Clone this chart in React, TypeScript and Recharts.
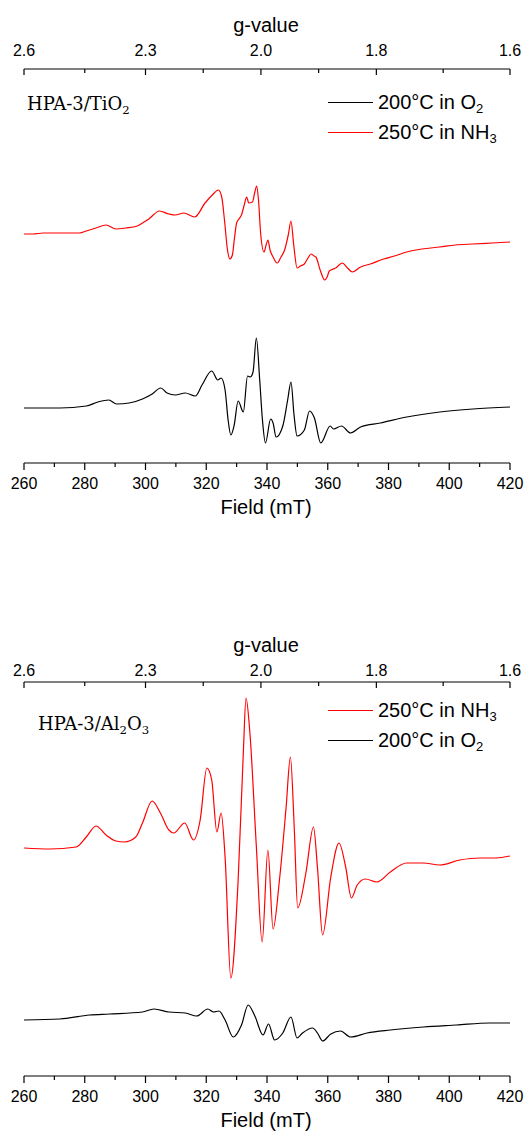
import { JSX } from "react";
import { LineChart, Line, XAxis, YAxis } from "recharts";

// bottom axis (Field, mT)
const fieldTicks = [260, 270, 280, 290, 300, 310, 320, 330, 340, 350, 360, 370, 380, 390, 400, 410, 420];
// top axis (g-value), positions on the field scale
const gTickFields = [260, 280, 300, 319, 338, 357, 376, 398, 420];
const gLabelFields = [260, 300, 338, 376, 420];
const gLabels = ["2.6", "2.3", "2.0", "1.8", "1.6"];

// HPA-3/TiO2, 200°C in O2
const tiO2FieldO2 = [260, 271.8, 280.5, 284.3, 287.9, 290.5, 294.6, 299, 302.2, 305, 307.1, 309.8, 313.1, 316.4, 318.6, 321.8, 323.8, 324.9, 326.2, 327.2, 328.1, 329.2, 330.5, 332.2, 333.6, 334.5, 335.4, 336.5, 337.6, 338.5, 339.5, 341.2, 342, 343, 345.2, 346.8, 347.9, 348.9, 349.9, 352.3, 354, 355.6, 357.7, 360.8, 361.9, 364.5, 367.5, 370.8, 377.3, 386, 396.9, 407.8, 420];
const tiO2SignalO2 = [5.5, 5.5, 5.7, 6.1, 6.3, 5.9, 6.0, 6.4, 6.9, 7.5, 7.0, 6.8, 7.0, 6.7, 7.8, 9.2, 8.3, 8.5, 7.3, 4.3, 2.8, 3.8, 6.2, 5.1, 8.7, 8.6, 9.1, 12.5, 8.3, 4.3, 2.0, 4.4, 4.0, 2.6, 3.7, 6.3, 8.1, 4.8, 2.7, 3.3, 5.2, 4.5, 2.0, 3.7, 3.4, 3.7, 3.0, 3.6, 4.0, 4.6, 5.1, 5.4, 5.6];

// HPA-3/TiO2, 250°C in NH3
const tiO2FieldNH3 = [260, 263, 266.3, 270, 274, 278.3, 280.5, 283.7, 287, 290.3, 293.5, 297.3, 299, 301.1, 304.6, 307.7, 309.8, 312.6, 316.2, 319.6, 322, 324, 325.1, 326, 327, 327.8, 328.6, 329.3, 330, 331, 331.6, 332.5, 333.3, 334, 335.2, 336, 336.6, 337.2, 337.9, 339, 339.7, 340.3, 341, 342, 343.4, 344.6, 345.8, 347, 347.9, 348.8, 349.9, 351, 352.3, 353.5, 354.5, 355.5, 356.1, 357.5, 359, 359.8, 360.5, 362.6, 364.8, 366.5, 368.1, 370.8, 374, 378.4, 382, 386, 391, 396.9, 402, 407.8, 414, 420];
const tiO2SignalNH3 = [22.9, 22.9, 23.0, 23.0, 23.0, 23.0, 23.2, 23.5, 23.8, 23.4, 23.5, 23.7, 24.0, 24.4, 25.2, 24.9, 24.8, 25.0, 24.6, 26.0, 26.8, 27.3, 26.6, 24.3, 21.3, 20.4, 20.8, 22.5, 24.0, 24.5, 24.8, 25.8, 26.6, 26.0, 26.1, 27.1, 27.7, 26.3, 23.0, 21.1, 21.8, 22.3, 21.3, 20.6, 20.0, 20.6, 21.3, 22.8, 24.2, 21.8, 19.5, 19.7, 19.9, 20.5, 20.9, 20.7, 20.6, 19.3, 18.3, 18.6, 19.2, 19.5, 20.0, 19.5, 19.1, 19.6, 19.9, 20.4, 20.7, 21.1, 21.4, 21.6, 21.8, 21.9, 22.0, 22.1];

// HPA-3/Al2O3, 250°C in NH3
const alFieldNH3 = [260, 268.5, 277.2, 280.5, 283.7, 287, 290.3, 293, 296.8, 299, 302.2, 304.9, 307.7, 309.3, 312.9, 315.8, 318, 320.2, 321.8, 323.5, 324.9, 326.2, 328.1, 330.5, 332.2, 333.1, 334.3, 336.5, 338.4, 340.3, 342, 344.1, 346.3, 347.7, 349, 350.1, 352.8, 355.3, 356.6, 358.3, 361, 363.7, 365.9, 367.8, 369.7, 372.4, 376.2, 380.6, 386, 391.5, 396.9, 403.5, 410, 415.4, 420];
const alSignalNH3 = [22.8, 22.7, 22.9, 23.9, 25.0, 24.1, 23.5, 23.4, 23.9, 25.3, 27.5, 26.3, 24.6, 24.3, 25.3, 23.6, 25.6, 30.8, 29.6, 24.4, 26.3, 21.9, 9.8, 19.6, 32.3, 37.8, 34.6, 22.9, 13.4, 22.6, 14.7, 19.6, 26.9, 31.9, 24.6, 16.8, 20.3, 24.9, 20.9, 14.1, 19.9, 23.3, 20.9, 17.8, 19.1, 19.7, 19.4, 20.4, 21.3, 21.3, 21.1, 21.6, 21.8, 21.8, 22.0];

// HPA-3/Al2O3, 200°C in O2
const alFieldO2 = [260, 271.8, 281.6, 288.1, 299, 302.8, 307.7, 313.1, 316.9, 320.5, 322.4, 324.2, 326.2, 328.9, 331.6, 333.8, 336, 338.7, 340.5, 342.5, 345.2, 347.9, 349.9, 351.7, 355, 356.6, 358.3, 361, 364.2, 367.5, 372.9, 380.6, 391.5, 402.4, 413.3, 420];
const alSignalO2 = [5.6, 5.7, 6.1, 6.2, 6.4, 6.7, 6.4, 6.3, 6.0, 6.7, 6.4, 6.5, 5.6, 3.9, 5.1, 7.1, 6.0, 4.1, 5.2, 3.6, 4.3, 5.9, 3.8, 4.3, 4.8, 4.3, 3.5, 4.2, 4.5, 3.9, 4.3, 4.6, 4.9, 5.1, 5.3, 5.3];

const SANS = "'Liberation Sans', Arial, sans-serif";
const SERIF = "'DejaVu Serif', 'Liberation Serif', serif";

const toData = (fields: number[], signal: number[]) =>
  fields.map((field, i) => ({ field, signal: signal[i] }));

const BottomTick = (props: any) => {
  const { x, y, payload } = props;
  const major = payload.value % 20 === 0;
  return (
    <g>
      <line x1={x} x2={x} y1={y} y2={y + (major ? 7 : 4)} stroke="#000" strokeWidth={1.2} />
      {major && (
        <text x={x} y={y + 20} textAnchor="middle" dominantBaseline="central" fontSize={16} fontFamily={SANS} fill="#000">
          {payload.value}
        </text>
      )}
    </g>
  );
};

const makeTopTick = (labelDy: number) => (props: any) => {
  const { x, y, payload } = props;
  const i = gLabelFields.indexOf(payload.value);
  const major = i >= 0;
  return (
    <g>
      <line x1={x} x2={x} y1={y} y2={y + (major ? 6 : 4)} stroke="#000" strokeWidth={1.2} />
      {major && (
        <text x={x} y={y - labelDy} textAnchor="middle" dominantBaseline="central" fontSize={16} fontFamily={SANS} fill="#000">
          {gLabels[i]}
        </text>
      )}
    </g>
  );
};

type Series = { name: string; sub: string; color: string; data: { field: number; signal: number }[] };

const Sub = ({ children }: { children: string }) => (
  <span style={{ fontSize: "0.65em", position: "relative", top: "0.35em" }}>{children}</span>
);

const Panel = ({
  top,
  sample,
  series,
  labelDy,
  titleDy,
  legendDy,
  sampleDy,
  sampleLeft,
}: {
  top: number;
  sample: JSX.Element;
  series: Series[];
  labelDy: number;
  titleDy: number;
  legendDy: number;
  sampleDy: number;
  sampleLeft: number;
}): JSX.Element => {
  const axisTop = 69;
  const axisBottom = 463;
  return (
    <div style={{ position: "absolute", left: 0, top, width: 530, height: 523 }}>
      <LineChart width={530} height={523} margin={{ top: 0, right: 20, bottom: 0, left: 24 }}>
        <XAxis
          xAxisId="top"
          orientation="top"
          type="number"
          dataKey="field"
          domain={[260, 420]}
          ticks={gTickFields}
          interval={0}
          height={axisTop}
          tickSize={0}
          tickMargin={0}
          tickLine={false}
          axisLine={{ stroke: "#000", strokeWidth: 1.2 }}
          tick={makeTopTick(labelDy)}
          allowDataOverflow
        />
        <XAxis
          xAxisId="bottom"
          type="number"
          dataKey="field"
          domain={[260, 420]}
          ticks={fieldTicks}
          interval={0}
          height={523 - axisBottom}
          tickSize={0}
          tickMargin={0}
          tickLine={false}
          axisLine={{ stroke: "#000", strokeWidth: 1.2 }}
          tick={BottomTick}
          allowDataOverflow
        />
        <YAxis hide domain={[0, 39.4]} />
        {series.map((s, i) => (
          <Line
            key={s.name + s.sub}
            xAxisId={i === 0 ? "bottom" : "top"}
            data={s.data}
            dataKey="signal"
            type="monotone"
            stroke={s.color}
            strokeWidth={1.2}
            dot={false}
            isAnimationActive={false}
          />
        ))}
      </LineChart>
      <div
        style={{
          position: "absolute",
          left: 266,
          top: axisTop - titleDy,
          transform: "translate(-50%, -50%)",
          fontFamily: SANS,
          fontSize: 20,
          whiteSpace: "nowrap",
        }}
      >
        g-value
      </div>
      <div
        style={{
          position: "absolute",
          left: 266,
          top: axisBottom + 44,
          transform: "translate(-50%, -50%)",
          fontFamily: SANS,
          fontSize: 20,
          whiteSpace: "nowrap",
        }}
      >
        Field (mT)
      </div>
      <div
        style={{
          position: "absolute",
          left: sampleLeft,
          top: axisTop + sampleDy,
          transform: "translateY(-50%)",
          fontFamily: SERIF,
          fontSize: 18,
          whiteSpace: "nowrap",
        }}
      >
        {sample}
      </div>
      {series.map((s, i) => (
        <div
          key={"lg" + i}
          style={{
            position: "absolute",
            left: 328,
            top: axisTop + legendDy + i * 30 - 12,
            height: 24,
            display: "flex",
            alignItems: "center",
            fontFamily: SANS,
            fontSize: 20,
            whiteSpace: "nowrap",
          }}
        >
          <span style={{ display: "inline-block", width: 45, height: 0, borderTop: `1.2px solid ${s.color}`, marginRight: 5 }} />
          <span>
            {s.name}
            <Sub>{s.sub}</Sub>
          </span>
        </div>
      ))}
    </div>
  );
};

export default function App(): JSX.Element {
  const tiSeries: Series[] = [
    { name: "200°C in O", sub: "2", color: "#000000", data: toData(tiO2FieldO2, tiO2SignalO2) },
    { name: "250°C in NH", sub: "3", color: "#ff0000", data: toData(tiO2FieldNH3, tiO2SignalNH3) },
  ];
  const alSeries: Series[] = [
    { name: "250°C in NH", sub: "3", color: "#ff0000", data: toData(alFieldNH3, alSignalNH3) },
    { name: "200°C in O", sub: "2", color: "#000000", data: toData(alFieldO2, alSignalO2) },
  ];
  return (
    <div style={{ position: "absolute", left: 0, top: 0, width: 530, height: 1136, background: "#fff" }}>
      <Panel
        top={0}
        sample={
          <span>
            HPA-3/TiO<Sub>2</Sub>
          </span>
        }
        sampleLeft={27}
        series={tiSeries}
        labelDy={19}
        titleDy={44}
        legendDy={33}
        sampleDy={34}
      />
      <Panel
        top={613}
        sample={
          <span>
            HPA-3/Al<Sub>2</Sub>O<Sub>3</Sub>
          </span>
        }
        sampleLeft={38}
        series={alSeries}
        labelDy={12}
        titleDy={37}
        legendDy={28}
        sampleDy={41}
      />
    </div>
  );
}
